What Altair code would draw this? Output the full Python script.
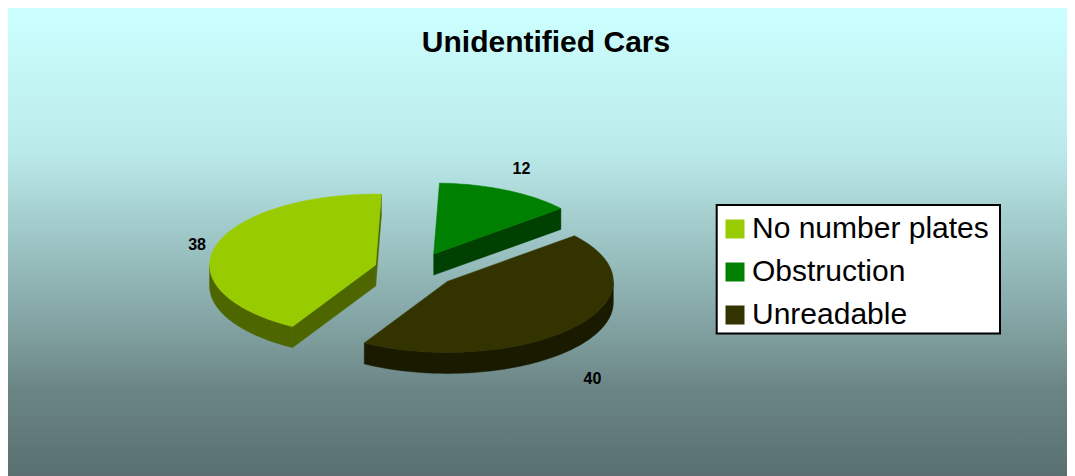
import math
import altair as alt
import pandas as pd

categories = ["No number plates", "Obstruction", "Unreadable"]
values = [38, 12, 40]
top_colors = ["#99CC00", "#008000", "#333300"]
wall_colors = ["#4D6600", "#004000", "#1A1A00"]
title_text = "Unidentified Cars"

W, H = 1059, 468
FONT = "Liberation Sans"
# pie geometry (page pixels; the scales below map them onto the canvas)
CX, CY, RX, RY, DEPTH = 415.5, 270, 166, 71, 21
EXPLODE = 0.25
START = 210.0
label_offsets = [(-19, -1), (15, -21), (18, 52)]

xs = alt.Scale(domain=[8, 8 + W], range=[0, W], nice=False, zero=False)
ys = alt.Scale(domain=[8, 8 + H], range=[0, H], nice=False, zero=False)


def rim(cx, cy, deg, drop=0.0):
    a = math.radians(deg)
    return cx + RX * math.sin(a), cy - RY * math.cos(a) + drop


def polygon(pts, fill):
    df = pd.DataFrame({"px": [p[0] for p in pts], "py": [p[1] for p in pts],
                       "i": range(len(pts))})
    return alt.Chart(df).mark_line(fill=fill, stroke=fill, strokeWidth=0.5, interpolate="linear-closed").encode(
        x=alt.X("px:Q", scale=xs, axis=None),
        y=alt.Y("py:Q", scale=ys, axis=None),
        order=alt.Order("i:Q"),
    )


stops = [(7, 204), (60, 198), (150, 187), (190, 174), (350, 122), (390, 106), (476, 90)]


def shade(v):
    return "#%02x%02x%02x" % (round(v), round(v * 1.25), round(v * 1.25))


background = alt.Chart(pd.DataFrame({"a": [0]})).mark_rect(
    fill=alt.Gradient(
        gradient="linear", x1=0, x2=0, y1=0, y2=1,
        stops=[alt.GradientStop(offset=max(0, (y - 8) / H), color=shade(v)) for y, v in stops],
    )
).encode(x=alt.value(0), x2=alt.value(W), y=alt.value(0), y2=alt.value(H))

layers = [background]
total = sum(values)
angle = START
labels = []
for name, val, top, wall, off in zip(categories, values, top_colors, wall_colors, label_offsets):
    span = 360.0 * val / total
    a0, a1 = angle, angle + span
    mid = (a0 + a1) / 2
    m = math.radians(mid)
    cx = CX + EXPLODE * RX * math.sin(m)
    cy = CY - EXPLODE * RY * math.cos(m)
    n = max(2, int(span))
    arc = [a0 + (a1 - a0) * k / n for k in range(n + 1)]

    # cut faces that look towards the viewer
    if math.sin(math.radians(a0)) < 0:
        e = rim(cx, cy, a0)
        layers.append(polygon([(cx, cy), e, (e[0], e[1] + DEPTH), (cx, cy + DEPTH)], wall))
    if math.sin(math.radians(a1)) > 0:
        e = rim(cx, cy, a1)
        layers.append(polygon([(cx, cy), e, (e[0], e[1] + DEPTH), (cx, cy + DEPTH)], wall))
    # outer wall: the front half of the rim
    front = [t for t in arc if 90 <= t % 360 <= 270]
    if len(front) > 1:
        pts = [rim(cx, cy, t) for t in front] + [rim(cx, cy, t, DEPTH) for t in reversed(front)]
        layers.append(polygon(pts, wall))
    # top face
    layers.append(polygon([(cx, cy)] + [rim(cx, cy, t) for t in arc], top))
    lx, ly = rim(cx, cy, mid)
    labels.append((val, lx, ly, off))
    angle = a1

for val, lx, ly, off in labels:
    layers.append(
        alt.Chart(pd.DataFrame({"px": [lx], "py": [ly], "v": [val]})).mark_text(
            font=FONT, fontSize=16, fontWeight="bold", color="black", dx=off[0], dy=off[1]
        ).encode(
            x=alt.X("px:Q", scale=xs, axis=None),
            y=alt.Y("py:Q", scale=ys, axis=None),
            text=alt.Text("v:Q"),
        )
    )

layers.append(
    alt.Chart(pd.DataFrame({"t": [title_text]})).mark_text(
        font=FONT, fontSize=30, fontWeight="bold", color="black", align="center", baseline="alphabetic"
    ).encode(x=alt.value(538), y=alt.value(44), text="t:N")
)

# legend frame
layers.append(
    alt.Chart(pd.DataFrame({"a": [0]})).mark_rect(fill="white", stroke="black", strokeWidth=2).encode(
        x=alt.value(708.7), x2=alt.value(992), y=alt.value(197), y2=alt.value(325.5)
    )
)

legend_df = pd.DataFrame({"name": categories, "v": values})
layers.append(
    alt.Chart(legend_df).mark_square(size=0, opacity=1).encode(
        x=alt.value(-50),
        y=alt.value(-50),
        color=alt.Color(
            "name:N",
            sort=categories,
            scale=alt.Scale(domain=categories, range=top_colors),
            legend=alt.Legend(
                orient="none", legendX=712, legendY=206, title=None, padding=0,
                labelFont=FONT, labelFontSize=30, labelColor="black", labelOffset=2,
                labelLimit=400,
                symbolType="square", symbolSize=361, symbolStrokeWidth=0, symbolOpacity=1,
                rowPadding=13,
            ),
        ),
    )
)

chart = alt.layer(*layers).properties(
    width=W, height=H,
    autosize=alt.AutoSizeParams(type="none"),
    padding=0,
    background="white",
).configure_view(stroke=None)

chart.save("out.html", embed_options={"renderer": "svg", "actions": False})
